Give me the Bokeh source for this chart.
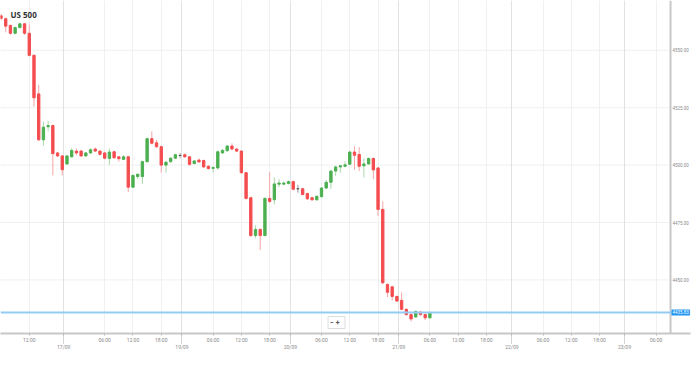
from bokeh.plotting import figure
from bokeh.models import (Range1d, FixedTicker, NumeralTickFormatter, Span, Label,
                          Grid, ColumnDataSource)
from bokeh.embed import file_html
from bokeh.resources import INLINE

# ---- data (hourly US 500 candles) ----
opens = [4565.0, 4563.75, 4560.8, 4557.4, 4559.9, 4561.5, 4557.4, 4547.8, 4531.0, 4511.0,
         4516.7, 4517.2, 4505.3, 4504.0, 4500.5, 4503.6, 4506.1, 4506.1, 4504.0, 4505.3,
         4507.0, 4506.1, 4505.3, 4502.9, 4505.8, 4503.6, 4502.5, 4503.6, 4490.4, 4495.0,
         4495.0, 4501.5, 4511.5, 4509.7, 4508.0, 4500.0, 4501.5, 4503.0, 4504.2, 4504.5,
         4503.6, 4500.7, 4502.2, 4502.0, 4499.5, 4498.6, 4498.75, 4505.3, 4506.25, 4508.3,
         4507.0, 4506.1, 4496.7, 4485.8, 4469.3, 4472.0, 4469.3, 4485.5, 4484.9, 4491.7,
         4491.7, 4492.0, 4492.8, 4489.7, 4489.7, 4487.6, 4485.8, 4484.9, 4486.25, 4490.0,
         4492.5, 4497.4, 4499.2, 4499.5, 4500.4, 4505.7, 4504.6, 4499.7, 4500.5, 4502.9,
         4498.75, 4480.7, 4448.0, 4447.0, 4442.8, 4441.1, 4437.2, 4434.9, 4433.9, 4436.0,
         4434.9, 4433.5]
highs = [4566.0, 4564.2, 4561.2, 4560.3, 4562.0, 4561.9, 4561.25, 4548.2, 4534.9, 4518.9,
         4519.2, 4517.6, 4505.8, 4504.4, 4504.4, 4507.4, 4507.2, 4506.6, 4505.7, 4507.2,
         4507.6, 4506.6, 4505.8, 4507.2, 4506.3, 4504.0, 4504.3, 4504.0, 4496.0, 4496.5,
         4502.0, 4512.0, 4514.7, 4511.0, 4508.5, 4501.7, 4503.5, 4505.0, 4505.2, 4505.0,
         4504.0, 4502.2, 4502.8, 4502.4, 4500.0, 4499.5, 4506.3, 4507.0, 4508.8, 4509.5,
         4507.4, 4506.5, 4497.0, 4486.2, 4473.75, 4472.4, 4486.0, 4497.0, 4494.6, 4493.9,
         4492.8, 4493.3, 4493.2, 4491.4, 4490.1, 4488.0, 4486.2, 4486.8, 4490.4, 4493.5,
         4497.8, 4499.7, 4500.1, 4501.7, 4506.0, 4508.2, 4507.8, 4502.9, 4503.3, 4503.3,
         4499.2, 4484.2, 4448.5, 4447.4, 4443.2, 4444.6, 4437.6, 4435.3, 4436.7, 4436.5,
         4435.3, 4436.2]
lows = [4563.0, 4557.8, 4556.8, 4557.0, 4559.5, 4556.7, 4547.3, 4525.5, 4510.5, 4508.5,
        4514.7, 4495.5, 4503.5, 4495.5, 4500.0, 4503.2, 4504.3, 4503.6, 4503.7, 4505.0,
        4505.7, 4504.2, 4502.5, 4500.1, 4502.7, 4501.5, 4502.2, 4488.3, 4490.0, 4494.0,
        4491.8, 4501.0, 4509.0, 4507.5, 4496.7, 4496.7, 4501.0, 4502.6, 4503.0, 4503.2,
        4499.8, 4500.3, 4501.0, 4498.8, 4498.0, 4496.7, 4498.2, 4505.0, 4505.8, 4506.5,
        4505.7, 4496.2, 4485.0, 4468.8, 4468.3, 4463.0, 4469.0, 4483.5, 4482.9, 4490.4,
        4491.2, 4491.6, 4489.0, 4488.0, 4486.8, 4484.9, 4484.5, 4484.5, 4485.8, 4489.6,
        4489.7, 4495.3, 4496.7, 4499.0, 4500.0, 4498.0, 4497.4, 4494.6, 4500.2, 4493.9,
        4477.9, 4448.2, 4442.5, 4441.0, 4440.3, 4436.8, 4434.4, 4431.9, 4433.4, 4434.4,
        4432.5, 4433.1]
closes = [4563.9, 4560.5, 4557.4, 4559.9, 4561.5, 4557.4, 4547.8, 4529.3, 4511.0, 4516.5,
          4517.2, 4505.0, 4504.0, 4498.0, 4504.0, 4506.4, 4505.3, 4504.0, 4505.3, 4506.7,
          4506.1, 4504.7, 4503.0, 4505.7, 4503.2, 4502.8, 4503.6, 4490.4, 4495.5, 4496.0,
          4501.5, 4511.5, 4509.5, 4508.0, 4500.0, 4501.25, 4503.0, 4504.5, 4504.2, 4503.6,
          4500.3, 4501.8, 4501.4, 4499.2, 4498.5, 4498.9, 4505.8, 4506.4, 4508.3, 4507.0,
          4506.1, 4496.7, 4485.5, 4469.3, 4472.0, 4469.3, 4485.5, 4484.2, 4491.8, 4492.2,
          4492.2, 4492.8, 4489.5, 4489.7, 4487.2, 4485.3, 4484.9, 4486.4, 4490.0, 4492.5,
          4497.4, 4499.2, 4499.7, 4500.1, 4505.7, 4504.3, 4499.5, 4500.5, 4502.9, 4497.9,
          4480.7, 4448.75, 4444.6, 4442.8, 4440.8, 4437.2, 4434.9, 4433.0, 4436.25, 4434.9,
          4433.5, 4435.83]

hour_ticks = [6, 22, 28, 34, 45, 51, 57, 68, 74, 80, 91, 97, 103, 115, 121, 127, 139]
hour_labels = ["12:00", "06:00", "12:00", "18:00", "06:00", "12:00", "18:00",
               "06:00", "12:00", "18:00", "06:00", "12:00", "18:00",
               "06:00", "12:00", "18:00", "06:00"]
date_ticks = [13.3, 38.4, 61.4, 84.4, 108.4, 132.3]
date_labels = ["17/09", "19/09", "20/09", "21/09", "22/09", "23/09"]
price_ticks = [4450, 4475, 4500, 4525, 4550]
title_text = "US 500"

# ---- styling ----
RED, GREEN, GRAY = "#f44d4f", "#4caf50", "#555555"
RED_W, GREEN_W = "#f8a5a6", "#a8d8aa"
AXIS_C = "#c8c8c8"

n = len(opens)
xs = list(range(n))
body_col, wick_col, tops, bots = [], [], [], []
for o, c in zip(opens, closes):
    if c > o:
        body_col.append(GREEN); wick_col.append(GREEN_W)
    elif c < o:
        body_col.append(RED); wick_col.append(RED_W)
    else:
        body_col.append(GRAY); wick_col.append("#999999")
    tops.append(max(o, c)); bots.append(min(o, c))

src = ColumnDataSource(dict(x=xs, o=opens, h=highs, l=lows, c=closes,
                            top=tops, bot=bots, bc=body_col, wc=wick_col))

# layout: candle spacing 4.72px; frame spans full 691 px width, 336 px high;
# price scale strip starts at 671 px
SP = 4.72
FW, FH, PW = 691, 336, 671
x_start, x_end = -0.5 / SP, (FW - 0.5) / SP
y_start, y_end = 4426.67, 4571.67
ppx = (y_end - y_start) / FH  # price units per pixel


def ypix(py):
    return y_end - py * ppx


def xpix(px):
    return (px - 0.5) / SP


p = figure(width=691, height=352, output_backend="svg", toolbar_location=None,
           x_range=Range1d(x_start, x_end), y_range=Range1d(y_start, y_end),
           y_axis_location="right", min_border_left=0, min_border_top=0,
           min_border_right=0, min_border_bottom=16)
p.outline_line_color = None
p.background_fill_color = "white"
p.border_fill_color = "white"

# horizontal grid lines, stopping at the price strip
p.ygrid.grid_line_color = None
grid_src = ColumnDataSource(dict(y=price_ticks))
p.segment(x0=x_start, x1=xpix(PW), y0="y", y1="y", line_color="#f0f0f0",
          line_width=1, source=grid_src, level="underlay")

p.segment(x0="x", y0="h", x1="x", y1="l", line_color="wc", line_width=1, source=src)
p.vbar(x="x", width=0.5, top="top", bottom="bot", fill_color="bc", line_color="bc",
       line_width=1, source=src)

# x axis
xt = FixedTicker(ticks=hour_ticks + date_ticks, minor_ticks=date_ticks)
xa = p.xaxis[0]
xa.ticker = xt
overrides = {t: l for t, l in zip(hour_ticks, hour_labels)}
overrides.update({t: "\n" + l for t, l in zip(date_ticks, date_labels)})
xa.major_label_overrides = overrides
xa.axis_line_color = AXIS_C
xa.axis_line_width = 2
xa.major_tick_line_color = "#bbbbbb"
xa.major_tick_in = 0
xa.major_tick_out = 2
xa.minor_tick_line_color = "#aaaaaa"
xa.minor_tick_line_dash = "1 1"
xa.minor_tick_in = 0
xa.minor_tick_out = 10
xa.major_label_standoff = -7
xa.major_label_text_font = "Roboto"
xa.major_label_text_font_size = "5px"
xa.major_label_text_color = "#8a8a8a"

# price axis: labels pulled back into the strip right of the 671px line
ya = p.yaxis[0]
ya.ticker = FixedTicker(ticks=price_ticks)
ya.formatter = NumeralTickFormatter(format="0.00")
ya.axis_line_color = None
ya.major_tick_line_color = None
ya.minor_tick_line_color = None
ya.major_tick_in = 0
ya.major_tick_out = 0
ya.major_label_standoff = -(FW - PW) + 2
ya.major_label_text_font = "Roboto"
ya.major_label_text_font_size = "4.5px"
ya.major_label_text_color = "#8a8a8a"

# price strip border line
p.add_layout(Span(location=xpix(PW), dimension="height", line_color=AXIS_C,
                  line_width=2))

# grids
p.xgrid.grid_line_color = "#f0f0f0"
p.add_layout(Grid(dimension=0, ticker=FixedTicker(ticks=date_ticks),
                  grid_line_color="#e2e2e2"))

# last price line + label
p.add_layout(Span(location=closes[-1], dimension="width", line_color="#93cbf3",
                  line_width=2))
p.add_layout(Label(x=xpix(PW + 1), y=closes[-1],
                   text=f"{closes[-1]:.2f}",
                   text_font="Roboto", text_font_size="4.5px", text_color="white",
                   text_baseline="middle", text_align="left", level="overlay",
                   background_fill_color="#2196f3", padding=1))

# title
p.add_layout(Label(x=xpix(10), y=ypix(14.5), text=title_text,
                   text_font="Open Sans", text_font_style="bold",
                   text_baseline="alphabetic",
                   text_font_size="8px", text_color="#333333"))

# zoom buttons
p.add_layout(Label(x=xpix(328), y=ypix(331), text="\u2212   +",
                   text_font="Roboto", text_font_size="7px", text_color="#555555",
                   text_font_style="bold", text_baseline="bottom",
                   background_fill_color="white", border_line_color="#dddddd",
                   padding=2))

open("out.html", "w").write(file_html(p, INLINE))
